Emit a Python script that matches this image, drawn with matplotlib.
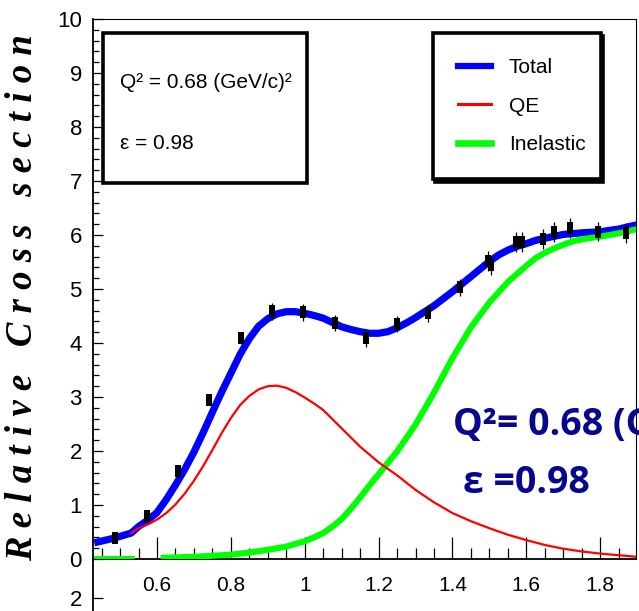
import numpy as np
import matplotlib
matplotlib.use("Agg")
import matplotlib.pyplot as plt
from matplotlib.lines import Line2D
from matplotlib.patches import Rectangle, Shadow
from matplotlib.ticker import MultipleLocator

x_data = [0.486, 0.573, 0.657, 0.741, 0.828, 0.911, 0.995, 1.082, 1.166, 1.250, 1.334,
          1.421, 1.497, 1.505, 1.572, 1.589, 1.646, 1.675, 1.719, 1.794, 1.870]
y_data = [0.39, 0.80, 1.63, 2.95, 4.09, 4.59, 4.57, 4.37, 4.09, 4.35, 4.55,
          5.03, 5.52, 5.44, 5.87, 5.87, 5.93, 6.06, 6.13, 6.06, 6.04]
y_err = [0.08, 0.08, 0.08, 0.08, 0.10, 0.16, 0.16, 0.15, 0.16, 0.15, 0.16,
         0.16, 0.18, 0.18, 0.19, 0.19, 0.19, 0.19, 0.19, 0.18, 0.19]

# model curves
x_total = [0.43, 0.48, 0.53, 0.55, 0.575, 0.60, 0.625, 0.65, 0.675, 0.70, 0.725, 0.75,
           0.775, 0.80, 0.825, 0.85, 0.875, 0.90, 0.925, 0.95, 0.975, 1.00, 1.025, 1.05,
           1.075, 1.10, 1.125, 1.15, 1.175, 1.20, 1.225, 1.25, 1.275, 1.30, 1.35, 1.40,
           1.45, 1.50, 1.525, 1.55, 1.575, 1.60, 1.625, 1.65, 1.70, 1.75, 1.80, 1.85, 1.90]
y_total = [0.30, 0.38, 0.48, 0.60, 0.72, 0.86, 1.10, 1.37, 1.66, 1.98, 2.34, 2.72,
           3.09, 3.44, 3.79, 4.08, 4.31, 4.45, 4.54, 4.58, 4.58, 4.55, 4.51, 4.46,
           4.38, 4.30, 4.25, 4.21, 4.18, 4.18, 4.21, 4.28, 4.37, 4.47, 4.69, 4.95,
           5.23, 5.51, 5.63, 5.72, 5.79, 5.84, 5.90, 5.94, 6.01, 6.04, 6.06, 6.11, 6.19]

x_qe = [0.53, 0.55, 0.575, 0.60, 0.625, 0.65, 0.675, 0.70, 0.725, 0.75, 0.775, 0.80,
        0.825, 0.85, 0.875, 0.90, 0.925, 0.95, 0.975, 1.00, 1.025, 1.05, 1.10, 1.15,
        1.20, 1.25, 1.30, 1.35, 1.40, 1.45, 1.50, 1.55, 1.60, 1.65, 1.70, 1.75, 1.80,
        1.85, 1.90]
y_qe = [0.48, 0.57, 0.64, 0.73, 0.85, 1.01, 1.21, 1.45, 1.72, 2.02, 2.33, 2.61,
        2.85, 3.02, 3.14, 3.20, 3.21, 3.17, 3.09, 2.99, 2.88, 2.76, 2.42, 2.08,
        1.79, 1.55, 1.28, 1.05, 0.85, 0.70, 0.57, 0.45, 0.35, 0.26, 0.19, 0.14, 0.10,
        0.07, 0.04]

x_inel = [0.43, 0.54, 0.57, 0.61, 0.65, 0.70, 0.75, 0.80, 0.85, 0.90, 0.95, 1.00, 1.025,
          1.05, 1.075, 1.10, 1.125, 1.15, 1.175, 1.20, 1.25, 1.30, 1.35, 1.40, 1.45,
          1.50, 1.55, 1.60, 1.625, 1.65, 1.675, 1.70, 1.725, 1.75, 1.80, 1.85, 1.90]
y_inel = [0.00, 0.00, np.nan, 0.02, 0.03, 0.04, 0.06, 0.08, 0.12, 0.17, 0.23, 0.33, 0.40,
          0.48, 0.60, 0.74, 0.93, 1.14, 1.36, 1.57, 1.99, 2.49, 3.08, 3.72, 4.29,
          4.75, 5.13, 5.43, 5.57, 5.67, 5.75, 5.82, 5.88, 5.92, 5.97, 6.03, 6.11]

legend_labels = ["Total", "QE", "Inelastic"]
x_ticks = [0.6, 0.8, 1.0, 1.2, 1.4, 1.6, 1.8]
x_ticklabels = ["0.6", "0.8", "1", "1.2", "1.4", "1.6", "1.8"]
y_ticks = list(range(0, 11))

plt.rcParams["font.family"] = ["Liberation Sans", "DejaVu Sans"]

NAVY = "#06068e"

fig = plt.figure(figsize=(6.39, 6.11), dpi=100)
ax = fig.add_axes([93 / 639, 52 / 611, 543 / 639, 540 / 611])

ax.plot(x_total, y_total, color="#0000ff", lw=5.2, solid_capstyle="butt",
        solid_joinstyle="round", zorder=3)
ax.plot(x_qe, y_qe, color="#ff0000", lw=1.6, zorder=3.2)
ax.plot(x_inel, y_inel, color="#00ff00", lw=4.4, solid_capstyle="butt",
        solid_joinstyle="round", zorder=3.1)

# data: thin error bars + tall black boxes
ax.errorbar(x_data, y_data, yerr=y_err, fmt="none", ecolor="black", elinewidth=0.9,
            capsize=0, zorder=4)
box = [(-0.5, -1), (0.5, -1), (0.5, 1), (-0.5, 1), (-0.5, -1)]
ax.plot(x_data, y_data, ls="none", marker=box, markersize=9, color="black",
        markeredgewidth=0, zorder=5)

ax.set_xlim(0.4267, 1.897)
ax.set_ylim(0, 10)
ax.set_xticks(x_ticks)
ax.set_xticklabels(x_ticklabels)
ax.set_yticks(y_ticks)
ax.xaxis.set_minor_locator(MultipleLocator(0.05))
ax.yaxis.set_minor_locator(MultipleLocator(0.2))
ax.tick_params(axis="x", which="major", direction="in", length=16, width=0.9,
               labelsize=15, pad=12)
ax.tick_params(axis="x", which="minor", direction="in", length=8, width=0.9)
ax.tick_params(axis="y", which="major", direction="in", length=7, width=0.9,
               labelsize=16, pad=8)
ax.tick_params(axis="y", which="minor", direction="in", length=4.5, width=0.9)
for side in ["top", "right"]:
    ax.spines[side].set_linewidth(0.8)
for side in ["left", "bottom"]:
    ax.spines[side].set_linewidth(1.3)

ax.set_ylabel("R e l a t i v e   C r o s s   s e c t i o n", family="Liberation Serif",
              fontweight="bold", fontstyle="italic", fontsize=26.5)
ax.yaxis.set_label_coords(-0.098, 0.485)

# parameter box, top left
rect = Rectangle((0.0184, 0.696), 0.3757, 0.278, transform=ax.transAxes,
                 facecolor="white", edgecolor="black", lw=2.6, zorder=6)
ax.add_patch(Shadow(rect, 1.5, -2, color="black", alpha=1, zorder=5.9))
ax.add_patch(rect)
ax.text(0.0497, 0.883, "Q² = 0.68 (GeV/c)²", transform=ax.transAxes, fontsize=15,
        va="center", zorder=7)
ax.text(0.0497, 0.770, "ε = 0.98", transform=ax.transAxes, fontsize=15,
        va="center", zorder=7)

# legend, top right
handles = [Line2D([], [], color="#0000ff", lw=4.5),
           Line2D([], [], color="#ff0000", lw=2.2),
           Line2D([], [], color="#00ff00", lw=4.8)]
leg = ax.legend(handles, legend_labels, loc="upper left",
                bbox_to_anchor=(0.626, 0.674, 0.3095, 0.300), mode="expand",
                borderaxespad=0, fontsize=15, handlelength=1.6, handletextpad=0.85,
                borderpad=1.2, labelspacing=0.94, fancybox=False, framealpha=1,
                edgecolor="black",
                shadow={"ox": 1.5, "oy": -2, "color": "black", "alpha": 1})
leg.get_frame().set_linewidth(2.6)
leg.set_zorder(8)

# big annotation (runs off the right edge, as in the original)
big_font = ["Open Sans", "Lato", "DejaVu Sans"]
ax.text(0.663, 0.2296, "Q²= 0.68 (GeV/c)²", transform=ax.transAxes, fontsize=27,
        fontweight="bold", color=NAVY, family=big_font, va="baseline", clip_on=False,
        zorder=9)
ax.text(0.681, 0.122, "ε =0.98", transform=ax.transAxes, fontsize=27,
        fontweight="bold", color=NAVY, family=big_font, va="baseline", clip_on=False,
        zorder=9)

# top of the panel underneath (cut off in the picture)
ax2 = fig.add_axes([93 / 639, 0, 543 / 639, 52 / 611])
ax2.set_ylim(1.75, 2.75)
ax2.set_yticks([2])
ax2.set_xticks([])
ax2.patch.set_visible(False)
for side in ["top", "right", "bottom"]:
    ax2.spines[side].set_visible(False)
ax2.spines["left"].set_linewidth(1.3)
ax2.tick_params(axis="y", direction="in", length=7, width=0.9, labelsize=16, pad=8)

fig.savefig("out.png", dpi=100)
